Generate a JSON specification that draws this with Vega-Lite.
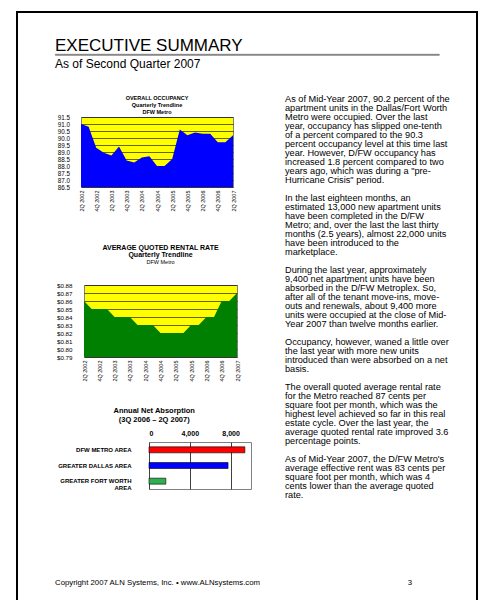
{
  "$schema": "https://vega.github.io/schema/vega-lite/v6.json",
  "background": "white",
  "padding": {"left": 16, "top": 6, "right": 0, "bottom": 0},
  "config": {
    "font": "Liberation Sans",
    "view": {"stroke": null},
    "axis": {"labelColor": "black", "labelFont": "Liberation Sans", "domain": false, "ticks": false, "title": null},
    "title": {"color": "black", "font": "Liberation Sans", "subtitleColor": "black", "subtitleFont": "Liberation Sans"},
    "text": {"font": "Liberation Sans", "color": "black"}
  },
  "datasets": {
    "blank": [{"t": ""}],
    "occ": [
      {"q": "2Q 2002", "v": 91.0}, {"q": "3Q 2002", "v": 90.8}, {"q": "4Q 2002", "v": 89.3},
      {"q": "1Q 2003", "v": 88.95}, {"q": "2Q 2003", "v": 88.75}, {"q": "3Q 2003", "v": 89.4},
      {"q": "4Q 2003", "v": 88.4}, {"q": "1Q 2004", "v": 88.25}, {"q": "2Q 2004", "v": 88.6},
      {"q": "3Q 2004", "v": 88.7}, {"q": "4Q 2004", "v": 88.0}, {"q": "1Q 2005", "v": 88.0},
      {"q": "2Q 2005", "v": 88.5}, {"q": "3Q 2005", "v": 90.6}, {"q": "4Q 2005", "v": 90.2},
      {"q": "1Q 2006", "v": 90.4}, {"q": "2Q 2006", "v": 90.3}, {"q": "3Q 2006", "v": 90.3},
      {"q": "4Q 2006", "v": 89.7}, {"q": "1Q 2007", "v": 89.7}, {"q": "2Q 2007", "v": 90.2}
    ],
    "rent": [
      {"q": "2Q 2002", "v": 0.86}, {"q": "3Q 2002", "v": 0.85}, {"q": "4Q 2002", "v": 0.85},
      {"q": "1Q 2003", "v": 0.85}, {"q": "2Q 2003", "v": 0.84}, {"q": "3Q 2003", "v": 0.84},
      {"q": "4Q 2003", "v": 0.84}, {"q": "1Q 2004", "v": 0.83}, {"q": "2Q 2004", "v": 0.83},
      {"q": "3Q 2004", "v": 0.83}, {"q": "4Q 2004", "v": 0.82}, {"q": "1Q 2005", "v": 0.82},
      {"q": "2Q 2005", "v": 0.82}, {"q": "3Q 2005", "v": 0.82}, {"q": "4Q 2005", "v": 0.83},
      {"q": "1Q 2006", "v": 0.83}, {"q": "2Q 2006", "v": 0.84}, {"q": "3Q 2006", "v": 0.84},
      {"q": "4Q 2006", "v": 0.86}, {"q": "1Q 2007", "v": 0.86}, {"q": "2Q 2007", "v": 0.87}
    ],
    "absorb": [
      {"area": "DFW METRO AREA", "units": 9400},
      {"area": "GREATER DALLAS AREA", "units": 7750},
      {"area": "GREATER FORT WORTH AREA", "units": 1650}
    ],
    "txt": [
      {"n": 1, "t": "As of Mid-Year 2007, 90.2 percent of the"},
      {"n": 2, "t": "apartment units in the Dallas/Fort Worth"},
      {"n": 3, "t": "Metro were occupied.  Over the last"},
      {"n": 4, "t": "year, occupancy has slipped one-tenth"},
      {"n": 5, "t": "of a percent compared to the 90.3"},
      {"n": 6, "t": "percent occupancy level at this time last"},
      {"n": 7, "t": "year.  However, D/FW occupancy has"},
      {"n": 8, "t": "increased 1.8 percent compared to two"},
      {"n": 9, "t": "years ago, which was during a \"pre-"},
      {"n": 10, "t": "Hurricane Crisis\" period."},
      {"n": 12, "t": "In the last eighteen months, an"},
      {"n": 13, "t": "estimated 13,000 new apartment units"},
      {"n": 14, "t": "have been completed in the D/FW"},
      {"n": 15, "t": "Metro; and, over the last the last thirty"},
      {"n": 16, "t": "months (2.5 years), almost 22,000 units"},
      {"n": 17, "t": "have been introduced to the"},
      {"n": 18, "t": "marketplace."},
      {"n": 20, "t": "During the last year, approximately"},
      {"n": 21, "t": "9,400 net apartment units have been"},
      {"n": 22, "t": "absorbed in the D/FW Metroplex.  So,"},
      {"n": 23, "t": "after all of the tenant move-ins, move-"},
      {"n": 24, "t": "outs and renewals, about 9,400 more"},
      {"n": 25, "t": "units were occupied at the close of Mid-"},
      {"n": 26, "t": "Year 2007 than twelve months earlier."},
      {"n": 28, "t": "Occupancy, however, waned a little over"},
      {"n": 29, "t": "the last year with more new units"},
      {"n": 30, "t": "introduced than were absorbed on a net"},
      {"n": 31, "t": "basis."},
      {"n": 33, "t": "The overall quoted average rental rate"},
      {"n": 34, "t": "for the Metro reached 87 cents per"},
      {"n": 35, "t": "square foot per month, which was the"},
      {"n": 36, "t": "highest level achieved so far in this real"},
      {"n": 37, "t": "estate cycle.  Over the last year, the"},
      {"n": 38, "t": "average quoted rental rate improved 3.6"},
      {"n": 39, "t": "percentage points."},
      {"n": 41, "t": "As of Mid-Year 2007, the D/FW Metro's"},
      {"n": 42, "t": "average effective rent was 83 cents per"},
      {"n": 43, "t": "square foot per month, which was 4"},
      {"n": 44, "t": "cents lower than the average quoted"},
      {"n": 45, "t": "rate."}
    ]
  },
  "columns": 2,
  "align": "none",
  "spacing": -424,
  "concat": [
    {
      "width": 460,
      "height": 620,
      "view": {"stroke": "black", "strokeWidth": 2},
      "data": {"name": "blank"},
      "mark": "text",
      "encoding": {"text": {"field": "t"}}
    },
    {
      "columns": 1,
      "align": "none",
      "spacing": 18,
      "concat": [
        {"width": 1, "height": 1, "data": {"name": "blank"}, "mark": "text", "encoding": {"text": {"field": "t"}}},
        {
          "columns": 1,
          "align": "none",
          "spacing": -2,
          "concat": [
            {
              "width": 384,
              "height": 1,
              "view": {"stroke": "#808080", "strokeWidth": 0.8, "fill": "#808080"},
              "title": {"text": "EXECUTIVE SUMMARY", "anchor": "start", "fontSize": 17, "fontWeight": "normal", "offset": -6},
              "data": {"name": "blank"},
              "mark": "text",
              "encoding": {"text": {"field": "t"}}
            },
            {
              "columns": 1,
              "align": "none",
              "spacing": 77,
              "concat": [
                {
                  "title": {"text": "As of Second Quarter 2007", "anchor": "start", "fontSize": 12, "fontWeight": "normal", "offset": 24},
                  "columns": 2,
                  "align": "none",
                  "spacing": 33,
                  "concat": [
                    {
                      "columns": 1,
                      "align": "none",
                      "spacing": 31,
                      "concat": [
                        {
                          "spacing": 0,
                          "hconcat": [
                            {"width": 1, "height": 1, "data": {"name": "blank"}, "mark": "text", "encoding": {"text": {"field": "t"}}},
                            {
                              "title": {"text": ["OVERALL OCCUPANCY", "Quarterly Trendline", "DFW Metro"], "fontSize": 5.5, "fontWeight": "bold", "lineHeight": 7.2, "anchor": "middle", "frame": "group", "offset": -2},
                              "width": 152,
                              "height": 70,
                              "data": {"name": "occ"},
                              "view": {"fill": "#FFFF00", "stroke": "#808080", "strokeWidth": 1},
                              "mark": {"type": "area", "color": "#0000FF", "clip": true, "opacity": 1},
                              "encoding": {
                                "x": {"field": "q", "type": "ordinal", "sort": null, "scale": {"type": "point", "padding": 0},
                                  "axis": {"values": ["2Q 2002", "4Q 2002", "2Q 2003", "4Q 2003", "2Q 2004", "4Q 2004", "2Q 2005", "4Q 2005", "2Q 2006", "4Q 2006", "2Q 2007"], "labelAngle": -90, "labelFontSize": 5.5, "labelPadding": 3, "grid": false}},
                                "y": {"field": "v", "type": "quantitative", "scale": {"domain": [86.5, 91.5], "zero": false, "nice": false},
                                  "axis": {"values": [86.5, 87, 87.5, 88, 88.5, 89, 89.5, 90, 90.5, 91, 91.5], "format": ".1f", "labelFontSize": 6.3, "labelOverlap": false, "labelPadding": 4, "offset": 7.5, "grid": true, "gridColor": "black", "gridWidth": 0.6, "gridOpacity": 1}}
                              }
                            }
                          ]
                        },
                        {
                          "columns": 1,
                          "align": "none",
                          "spacing": 24,
                          "concat": [
                            {
                              "spacing": 0,
                              "hconcat": [
                                {"width": 1, "height": 1, "data": {"name": "blank"}, "mark": "text", "encoding": {"text": {"field": "t"}}},
                                {
                                  "title": {"text": ["AVERAGE QUOTED RENTAL RATE", "Quarterly Trendline"], "subtitle": "DFW Metro", "fontSize": 7, "fontWeight": "bold", "lineHeight": 7.6, "subtitleFontSize": 5.5, "subtitlePadding": 1, "anchor": "middle", "frame": "group", "offset": 17},
                                  "width": 153,
                                  "height": 72,
                                  "data": {"name": "rent"},
                                  "view": {"fill": "#FFFF00", "stroke": "#808080", "strokeWidth": 1},
                                  "mark": {"type": "area", "color": "#008000", "clip": true},
                                  "encoding": {
                                    "x": {"field": "q", "type": "ordinal", "sort": null, "scale": {"type": "point", "padding": 0},
                                      "axis": {"values": ["2Q 2002", "4Q 2002", "2Q 2003", "4Q 2003", "2Q 2004", "4Q 2004", "2Q 2005", "4Q 2005", "2Q 2006", "4Q 2006", "2Q 2007"], "labelAngle": -90, "labelFontSize": 5.5, "labelPadding": 3, "grid": false}},
                                    "y": {"field": "v", "type": "quantitative", "scale": {"domain": [0.79, 0.88], "zero": false, "nice": false},
                                      "axis": {"values": [0.79, 0.8, 0.81, 0.82, 0.83, 0.84, 0.85, 0.86, 0.87, 0.88], "format": "$.2f", "labelFontSize": 6.2, "labelOverlap": false, "labelPadding": 4, "offset": 8, "grid": true, "gridColor": "black", "gridWidth": 0.6, "gridOpacity": 1}}
                                  }
                                }
                              ]
                            },
                            {
                              "spacing": 0,
                              "hconcat": [
                                {"width": 1, "height": 1, "data": {"name": "blank"}, "mark": "text", "encoding": {"text": {"field": "t"}}},
                                {
                                  "title": {"text": ["Annual Net Absorption", "(3Q 2006 \u2013 2Q 2007)"], "fontSize": 7.5, "fontWeight": "bold", "lineHeight": 9, "anchor": "middle", "frame": "bounds", "offset": 6},
                                  "width": 102,
                                  "height": 47,
                                  "data": {"name": "absorb"},
                                  "view": {"stroke": "#808080", "strokeWidth": 1},
                                  "mark": {"type": "bar", "stroke": "black", "strokeWidth": 0.6, "height": 6},
                                  "encoding": {
                                    "y": {"field": "area", "type": "nominal", "sort": null,
                                      "axis": {"labelFontSize": 6, "labelFontWeight": "bold", "labelPadding": 8, "offset": 10, "labelLineHeight": 7,
                                        "labelExpr": "datum.value == 'GREATER FORT WORTH AREA' ? ['GREATER FORT WORTH', 'AREA'] : datum.value"}},
                                    "x": {"field": "units", "type": "quantitative", "scale": {"domain": [0, 10000], "nice": false},
                                      "axis": {"orient": "top", "values": [0, 4000, 8000], "format": ",.0f", "labelFontSize": 7, "labelFontWeight": "bold", "labelPadding": 6, "grid": true, "gridColor": "#404040", "gridWidth": 1, "gridOpacity": 1}},
                                    "color": {"field": "area", "type": "nominal", "sort": null, "scale": {"range": ["#FF0000", "#0000FF", "#2EB050"]}, "legend": null}
                                  }
                                }
                              ]
                            }
                          ]
                        }
                      ]
                    },
                    {
                      "width": 178,
                      "height": 378,
                      "data": {"name": "txt"},
                      "mark": {"type": "text", "align": "left", "baseline": "middle", "fontSize": 9.2},
                      "encoding": {
                        "x": {"value": 0},
                        "y": {"field": "n", "type": "quantitative", "scale": {"domain": [3, 45], "reverse": true}, "axis": null},
                        "text": {"field": "t"}
                      }
                    }
                  ]
                },
                {
                  "width": 357,
                  "height": 1,
                  "data": {"values": [{"t": "Copyright 2007 ALN Systems, Inc.  \u2022  www.ALNsystems.com", "p": "3"}]},
                  "layer": [
                    {"mark": {"type": "text", "align": "left", "baseline": "middle", "fontSize": 7.8}, "encoding": {"x": {"value": 0}, "text": {"field": "t"}}},
                    {"mark": {"type": "text", "align": "right", "baseline": "middle", "fontSize": 7.8}, "encoding": {"x": {"value": "width"}, "text": {"field": "p"}}}
                  ]
                }
              ]
            }
          ]
        }
      ]
    }
  ]
}
